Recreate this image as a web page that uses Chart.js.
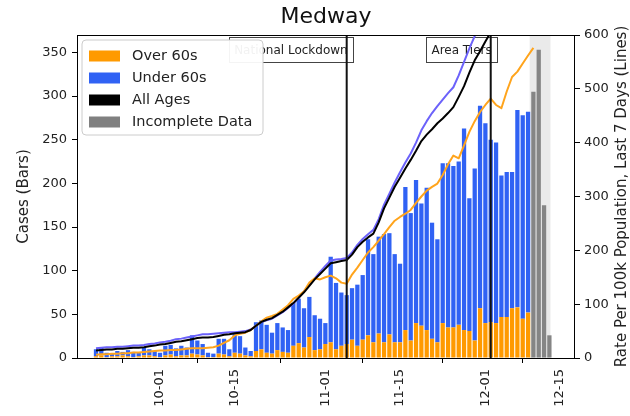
<!DOCTYPE html>
<html><head><meta charset="utf-8">
<script src="https://cdn.jsdelivr.net/npm/chart.js@4.4.1/dist/chart.umd.min.js"></script>
<style>html,body{margin:0;padding:0;background:#fff;}canvas{display:block;}</style>
</head><body>
<canvas id="c" width="630" height="416"></canvas>
<script>
const dates = [
'2020-09-19','2020-09-20','2020-09-21','2020-09-22','2020-09-23','2020-09-24','2020-09-25','2020-09-26','2020-09-27','2020-09-28','2020-09-29','2020-09-30',
'2020-10-01','2020-10-02','2020-10-03','2020-10-04','2020-10-05','2020-10-06','2020-10-07','2020-10-08','2020-10-09','2020-10-10',
'2020-10-11','2020-10-12','2020-10-13','2020-10-14','2020-10-15','2020-10-16','2020-10-17','2020-10-18','2020-10-19','2020-10-20',
'2020-10-21','2020-10-22','2020-10-23','2020-10-24','2020-10-25','2020-10-26','2020-10-27','2020-10-28','2020-10-29','2020-10-30','2020-10-31',
'2020-11-01','2020-11-02','2020-11-03','2020-11-04','2020-11-05','2020-11-06','2020-11-07','2020-11-08','2020-11-09','2020-11-10',
'2020-11-11','2020-11-12','2020-11-13','2020-11-14','2020-11-15','2020-11-16','2020-11-17','2020-11-18','2020-11-19','2020-11-20',
'2020-11-21','2020-11-22','2020-11-23','2020-11-24','2020-11-25','2020-11-26','2020-11-27','2020-11-28','2020-11-29','2020-11-30',
'2020-12-01','2020-12-02','2020-12-03','2020-12-04','2020-12-05','2020-12-06','2020-12-07','2020-12-08','2020-12-09','2020-12-10',
'2020-12-11','2020-12-12','2020-12-13'];

// daily cases (bars), 2020-09-19 .. 2020-12-09
const over60Cases = [2,3,1,2,2,3,2,1,2,3,3,2,
 1,3,4,2,3,3,5,4,3,1, 1,5,4,2,6,5,3,2,
 8,10,6,5,9,7,6,14,17,12,24,9,
 10,16,18,10,14,16,21,14,21,26,18,28,
 18,27,18,18,32,20,40,37,32,22,18,40,
 35,35,38,32,31,20,57,40,41,40,47,47,
 57,58,45,52];
const under60Cases = [8,9,5,3,6,4,7,6,4,9,7,6,
 5,11,11,9,11,9,21,16,13,5, 4,17,18,8,22,20,9,6,
 33,33,32,24,31,28,26,49,51,45,46,40,
 35,24,98,76,61,56,59,70,74,110,101,111,
 124,116,101,90,164,146,164,140,163,133,118,183,
 188,185,187,231,152,197,232,229,209,207,162,166,
 156,226,233,230];
// incomplete data (grey bars), 2020-12-10 .. 2020-12-13
const incompleteCases = [305,353,175,26];

// 7-day rate per 100k (lines), 2020-09-19 .. 2020-12-10
const rateOver60 = [6,7,7,8,8,9,9,10,10,11,12,13,
 14,14,15,15,16,17,18,18,18,19, 20,23,28,33,42,45,47,52,
 60,68,75,78,82,90,98,110,116,124,140,148,
 146,150,153,148,140,138,155,168,182,196,206,218,
 230,243,255,262,268,275,288,300,311,318,324,340,
 360,376,371,395,420,440,457,470,482,470,464,495,
 522,532,547,562,576];
const rateUnder60 = [18,19,20,20,21,21,22,23,23,24,26,27,
 29,30,32,35,36,38,40,42,44,44, 45,46,47,48,48,49,50,53,
 60,67,70,73,79,85,93,101,112,124,136,148,
 160,171,181,183,184,186,196,210,221,230,238,258,
 285,305,326,345,363,380,400,423,440,455,468,480,
 492,503,525,550,575,598,620,640,660,680,700,720,
 740,760,780,800,820];
const rateAll = [14,15,16,16,17,17,18,19,19,20,22,23,
 25,26,28,30,31,33,35,37,38,38, 39,41,43,44,46,47,48,52,
 60,67,71,74,80,86,94,102,112,122,134,146,
 156,166,176,178,180,182,192,206,216,224,231,252,
 278,298,318,335,352,368,385,403,415,425,436,445,
 455,466,485,505,530,553,570,588,605,625,640,655,
 670,690,705,720,735];

const xTickDates = ['2020-10-01','2020-10-15','2020-11-01','2020-11-15','2020-12-01','2020-12-15'];
const events = [{date:'2020-11-05', label:'National Lockdown'}, {date:'2020-12-02', label:'Area Tiers'}];
const legendItems = [
  {label:'Over 60s', color:'#ff9a00'},
  {label:'Under 60s', color:'#3062f4'},
  {label:'All Ages', color:'#000000'},
  {label:'Incomplete Data', color:'#808080'}];

const DAY = 86400000, REF = Date.parse('2020-10-01');
const dayOf = s => (Date.parse(s) - REF) / DAY;
const caseDates = dates.slice(0, over60Cases.length);
const incDates = dates.slice(over60Cases.length, over60Cases.length + incompleteCases.length);
const lineDates = dates.slice(0, rateAll.length);
const pts = (ds, vs) => vs.map((v, i) => ({x: dayOf(ds[i]), y: v}));

const FONT = 'DejaVu Sans';
Chart.defaults.font.family = FONT;

const decor = {
  id: 'decor',
  beforeDatasetsDraw(chart) {
    const {ctx, chartArea: a, scales: {x}} = chart;
    ctx.save();
    const b0 = x.getPixelForValue(dayOf(incDates[0]) - 0.7);
    const b1 = x.getPixelForValue(dayOf(incDates[incDates.length - 1]) + 0.2);
    ctx.fillStyle = 'rgba(150,150,150,0.2)';
    ctx.fillRect(b0, a.top, b1 - b0, a.bottom - a.top);
    ctx.font = '12px "' + FONT + '"';
    events.forEach(ev => {
      const px = x.getPixelForValue(dayOf(ev.date));
      const w = ctx.measureText(ev.label).width;
      const left = Math.round(px - w - 4), right = Math.round(px + 6);
      ctx.strokeStyle = '#444'; ctx.lineWidth = 1;
      ctx.strokeRect(left + 0.5, a.top + 2.5, right - left, 25);
      ctx.fillStyle = '#222'; ctx.textAlign = 'right'; ctx.textBaseline = 'middle';
      ctx.fillText(ev.label, px + 1, a.top + 15.5);
    });
    ctx.restore();
  },
  afterDatasetsDraw(chart) {
    const {ctx, chartArea: a, scales: {x}} = chart;
    ctx.save();
    ctx.strokeStyle = '#111'; ctx.lineWidth = 2;
    events.forEach(ev => {
      const px = x.getPixelForValue(dayOf(ev.date));
      ctx.beginPath(); ctx.moveTo(px, a.top); ctx.lineTo(px, a.bottom); ctx.stroke();
    });
    ctx.strokeStyle = '#000'; ctx.lineWidth = 1;
    ctx.strokeRect(a.left + 0.5, a.top + 0.5, a.right - a.left - 1, a.bottom - a.top);
    ctx.restore();
  },
  afterDraw(chart) {
    const {ctx, chartArea: a} = chart;
    ctx.save();
    // title
    ctx.fillStyle = '#111'; ctx.font = '22px "' + FONT + '"';
    ctx.textAlign = 'center'; ctx.textBaseline = 'middle';
    ctx.fillText('Medway', (a.left + a.right) / 2, 17);
    // right axis title
    ctx.font = '15px "' + FONT + '"'; ctx.fillStyle = '#222';
    ctx.translate(622, (a.top + a.bottom) / 2);
    ctx.rotate(-Math.PI / 2);
    ctx.fillText('Rate Per 100k Population, Last 7 Days (Lines)', 0, 0);
    ctx.setTransform(1, 0, 0, 1, 0, 0);
    // legend
    const lx = 82, ly = 40, lw = 181, lh = 95, r = 4;
    ctx.beginPath();
    ctx.moveTo(lx + r, ly); ctx.lineTo(lx + lw - r, ly); ctx.arcTo(lx + lw, ly, lx + lw, ly + r, r);
    ctx.lineTo(lx + lw, ly + lh - r); ctx.arcTo(lx + lw, ly + lh, lx + lw - r, ly + lh, r);
    ctx.lineTo(lx + r, ly + lh); ctx.arcTo(lx, ly + lh, lx, ly + lh - r, r);
    ctx.lineTo(lx, ly + r); ctx.arcTo(lx, ly, lx + r, ly, r); ctx.closePath();
    ctx.fillStyle = 'rgba(255,255,255,0.94)'; ctx.fill();
    ctx.strokeStyle = '#cccccc'; ctx.lineWidth = 1; ctx.stroke();
    ctx.font = '14.5px "' + FONT + '"'; ctx.textAlign = 'left'; ctx.textBaseline = 'middle';
    legendItems.forEach((it, i) => {
      const cy = 56 + i * 22;
      ctx.fillStyle = it.color; ctx.fillRect(89, cy - 5.5, 31, 11);
      ctx.fillStyle = '#222'; ctx.fillText(it.label, 132, cy);
    });
    ctx.restore();
  }
};

const tickFont = {family: FONT, size: 13};
const tickGrid = {drawOnChartArea: false, drawTicks: true, tickLength: 5, color: '#000', lineWidth: 1};

new Chart(document.getElementById('c'), {
  type: 'bar',
  data: {
    datasets: [
      {type: 'bar', label: 'Over 60s', data: pts(caseDates, over60Cases), backgroundColor: '#ff9a00', yAxisID: 'y', order: 2},
      {type: 'bar', label: 'Under 60s', data: pts(caseDates, under60Cases), backgroundColor: '#3062f4', yAxisID: 'y', order: 2},
      {type: 'bar', label: 'Incomplete Data', data: pts(incDates, incompleteCases), backgroundColor: '#858585', yAxisID: 'y', order: 2},
      {type: 'line', label: 'Over 60s rate', data: pts(lineDates, rateOver60), borderColor: '#ffa41c', yAxisID: 'y2', order: 1},
      {type: 'line', label: 'Under 60s rate', data: pts(lineDates, rateUnder60), borderColor: '#6c62fa', yAxisID: 'y2', order: 1},
      {type: 'line', label: 'All Ages rate', data: pts(lineDates, rateAll), borderColor: '#000000', yAxisID: 'y2', order: 0}
    ]
  },
  options: {
    responsive: false, animation: false, devicePixelRatio: 1,
    layout: {padding: {top: 35, left: 0, right: 0, bottom: 0}},
    datasets: {
      bar: {categoryPercentage: 0.8, barPercentage: 1.0, borderWidth: 0},
      line: {pointRadius: 0, borderWidth: 2, fill: false, tension: 0, borderJoinStyle: 'round'}
    },
    plugins: {legend: {display: false}, title: {display: false}, tooltip: {enabled: false}},
    scales: {
      x: {
        type: 'linear', min: -15.56, max: 77.8, offset: false, stacked: true,
        afterBuildTicks: s => { s.ticks = xTickDates.map(d => ({value: dayOf(d)})); },
        ticks: {autoSkip: false, minRotation: 90, maxRotation: 90, padding: 6, color: '#222', font: tickFont,
          callback: v => { const d = xTickDates.find(t => Math.abs(dayOf(t) - v) < 1e-6); return d ? d.slice(5) : ''; }},
        grid: tickGrid, border: {display: false},
        afterFit: s => { s.height = 58; }
      },
      y: {
        position: 'left', min: 0, max: 370, stacked: true,
        afterBuildTicks: s => { s.ticks = s.ticks.filter(t => t.value % 50 === 0); },
        ticks: {stepSize: 50, padding: 5, color: '#222', font: tickFont},
        grid: tickGrid, border: {display: false},
        title: {display: true, text: 'Cases (Bars)', color: '#222', font: {family: FONT, size: 15}, padding: {top: 15, bottom: 0}},
        afterFit: s => { s.width = 77; }
      },
      y2: {
        position: 'right', min: 0, max: 600,
        ticks: {stepSize: 100, padding: 4, color: '#222', font: tickFont},
        grid: tickGrid, border: {display: false},
        afterFit: s => { s.width = 55; }
      }
    }
  },
  plugins: [decor]
});
</script>
</body></html>
